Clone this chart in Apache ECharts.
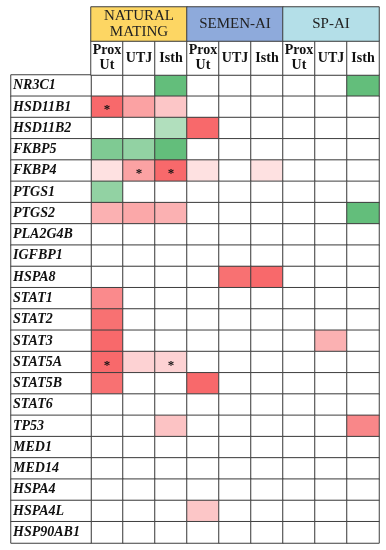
<!DOCTYPE html>
<html>
<head>
<meta charset="utf-8">
<script src="https://cdn.jsdelivr.net/npm/echarts@6/dist/echarts.min.js"></script>
<style>
html,body{margin:0;padding:0;background:#fff;}
#c{width:386px;height:550px;}
</style>
</head>
<body>
<div id="c"></div>
<script>
// ---- data ----
const groups = ['NATURAL\nMATING', 'SEMEN-AI', 'SP-AI'];
const tissues = ['Prox\nUt', 'UTJ', 'Isth'];
const genes = ['NR3C1','HSD11B1','HSD11B2','FKBP5','FKBP4','PTGS1','PTGS2','PLA2G4B','IGFBP1','HSPA8',
  'STAT1','STAT2','STAT3','STAT5A','STAT5B','STAT6','TP53','MED1','MED14','HSPA4','HSPA4L','HSP90AB1'];
// columns: NM Prox, NM UTJ, NM Isth, SEMEN Prox, SEMEN UTJ, SEMEN Isth, SP Prox, SP UTJ, SP Isth
// positive = up (red), negative = down (green)
const NR3C1    = [0, 0, -1.0, 0, 0, 0, 0, 0, -1.0];
const HSD11B1  = [1.0, 0.62, 0.38, 0, 0, 0, 0, 0, 0];
const HSD11B2  = [0, 0, -0.5, 1.0, 0, 0, 0, 0, 0];
const FKBP5    = [-0.82, -0.7, -1.0, 0, 0, 0, 0, 0, 0];
const FKBP4    = [0.2, 0.62, 1.0, 0.2, 0, 0.2, 0, 0, 0];
const PTGS1    = [-0.7, 0, 0, 0, 0, 0, 0, 0, 0];
const PTGS2    = [0.52, 0.58, 0.52, 0, 0, 0, 0, 0, -1.0];
const PLA2G4B  = [0, 0, 0, 0, 0, 0, 0, 0, 0];
const IGFBP1   = [0, 0, 0, 0, 0, 0, 0, 0, 0];
const HSPA8    = [0, 0, 0, 0, 0.95, 1.0, 0, 0, 0];
const STAT1    = [0.78, 0, 0, 0, 0, 0, 0, 0, 0];
const STAT2    = [0.95, 0, 0, 0, 0, 0, 0, 0, 0];
const STAT3    = [1.0, 0, 0, 0, 0, 0, 0, 0.52, 0];
const STAT5A   = [1.0, 0.3, 0.3, 0, 0, 0, 0, 0, 0];
const STAT5B   = [0.95, 0, 0, 1.0, 0, 0, 0, 0, 0];
const STAT6    = [0, 0, 0, 0, 0, 0, 0, 0, 0];
const TP53     = [0, 0, 0.4, 0, 0, 0, 0, 0, 0.8];
const MED1     = [0, 0, 0, 0, 0, 0, 0, 0, 0];
const MED14    = [0, 0, 0, 0, 0, 0, 0, 0, 0];
const HSPA4    = [0, 0, 0, 0, 0, 0, 0, 0, 0];
const HSPA4L   = [0, 0, 0, 0.38, 0, 0, 0, 0, 0];
const HSP90AB1 = [0, 0, 0, 0, 0, 0, 0, 0, 0];
const values = [NR3C1, HSD11B1, HSD11B2, FKBP5, FKBP4, PTGS1, PTGS2, PLA2G4B, IGFBP1, HSPA8,
  STAT1, STAT2, STAT3, STAT5A, STAT5B, STAT6, TP53, MED1, MED14, HSPA4, HSPA4L, HSP90AB1];
// significant cells: [gene, column index]
const stars = [['HSD11B1', 0], ['FKBP4', 1], ['FKBP4', 2], ['STAT5A', 0], ['STAT5A', 2]];

// ---- styles ----
const groupColors = ['#fdd663', '#8eaadb', '#b4dfe8'];
const lineColor = '#3f3f3f';
const serif = '"Liberation Serif", "DejaVu Serif", serif';

// ---- build ----
const subCols = [];
groups.forEach(() => tissues.forEach(t => subCols.push(t)));
const starSet = new Set(stars.map(s => s[0] + '|' + s[1]));

const cellData = [];
values.forEach((row, gi) => row.forEach((v, ci) => cellData.push([ci, gi, v])));

const hidden = {
  axisLine: { show: false }, axisTick: { show: false },
  axisLabel: { show: false }, splitLine: { show: false }
};
const cellBorder = { borderColor: lineColor, borderWidth: 1 };

const option = {
  animation: false,
  grid: [
    { left: 91, top: 75, width: 288, height: 468 },   // data
    { left: 11, top: 75, width: 80, height: 468 },    // gene names
    { left: 91, top: 41, width: 288, height: 34 },    // tissues
    { left: 91, top: 7, width: 288, height: 34 }      // groups
  ],
  xAxis: [
    Object.assign({ type: 'category', gridIndex: 0, data: subCols.map((_, i) => i) }, hidden),
    Object.assign({ type: 'category', gridIndex: 1, data: ['g'] }, hidden),
    Object.assign({ type: 'category', gridIndex: 2, data: subCols.map((_, i) => i) }, hidden),
    Object.assign({ type: 'category', gridIndex: 3, data: groups }, hidden)
  ],
  yAxis: [
    Object.assign({ type: 'category', gridIndex: 0, data: genes, inverse: true }, hidden),
    {
      type: 'category', gridIndex: 1, data: genes, inverse: true,
      axisLine: { show: false }, axisTick: { show: false }, splitLine: { show: false },
      axisLabel: {
        inside: true, margin: 2, align: 'left',
        fontFamily: serif, fontWeight: 'bold', fontStyle: 'italic',
        fontSize: 14, color: '#111'
      },
      z: 10
    },
    Object.assign({ type: 'category', gridIndex: 2, data: ['t'] }, hidden),
    Object.assign({ type: 'category', gridIndex: 3, data: ['g'] }, hidden)
  ],
  visualMap: {
    show: false, type: 'continuous', seriesIndex: 0,
    min: -1, max: 1, dimension: 2,
    inRange: { color: ['#63be7b', '#ffffff', '#f8696b'] }
  },
  series: [
    {
      type: 'heatmap', xAxisIndex: 0, yAxisIndex: 0, data: cellData,
      itemStyle: cellBorder, emphasis: { disabled: true },
      label: {
        show: true, color: '#111', fontSize: 13, fontWeight: 'bold', fontFamily: serif,
        offset: [0, 3],
        formatter: p => starSet.has(genes[p.value[1]] + '|' + p.value[0]) ? '*' : ''
      }
    },
    {
      type: 'heatmap', xAxisIndex: 1, yAxisIndex: 1,
      data: genes.map((g, i) => ({ value: [0, i, 0], itemStyle: { color: '#ffffff' } })),
      itemStyle: cellBorder, emphasis: { disabled: true }
    },
    {
      type: 'heatmap', xAxisIndex: 2, yAxisIndex: 2,
      data: subCols.map((t, i) => ({ value: [i, 0, 0], itemStyle: { color: '#ffffff' } })),
      itemStyle: cellBorder, emphasis: { disabled: true },
      label: {
        show: true, color: '#111', fontSize: 14, fontWeight: 'bold', fontFamily: serif,
        lineHeight: 15, formatter: p => subCols[p.value[0]]
      }
    },
    {
      type: 'heatmap', xAxisIndex: 3, yAxisIndex: 3,
      data: groups.map((g, i) => ({ value: [i, 0, 0], itemStyle: { color: groupColors[i] } })),
      itemStyle: cellBorder, emphasis: { disabled: true },
      label: {
        show: true, color: '#222', fontSize: 15, fontFamily: serif,
        lineHeight: 16, formatter: p => groups[p.value[0]]
      }
    }
  ]
};

const chart = echarts.init(document.getElementById('c'), null, { renderer: 'canvas' });
chart.setOption(option);
</script>
</body>
</html>
